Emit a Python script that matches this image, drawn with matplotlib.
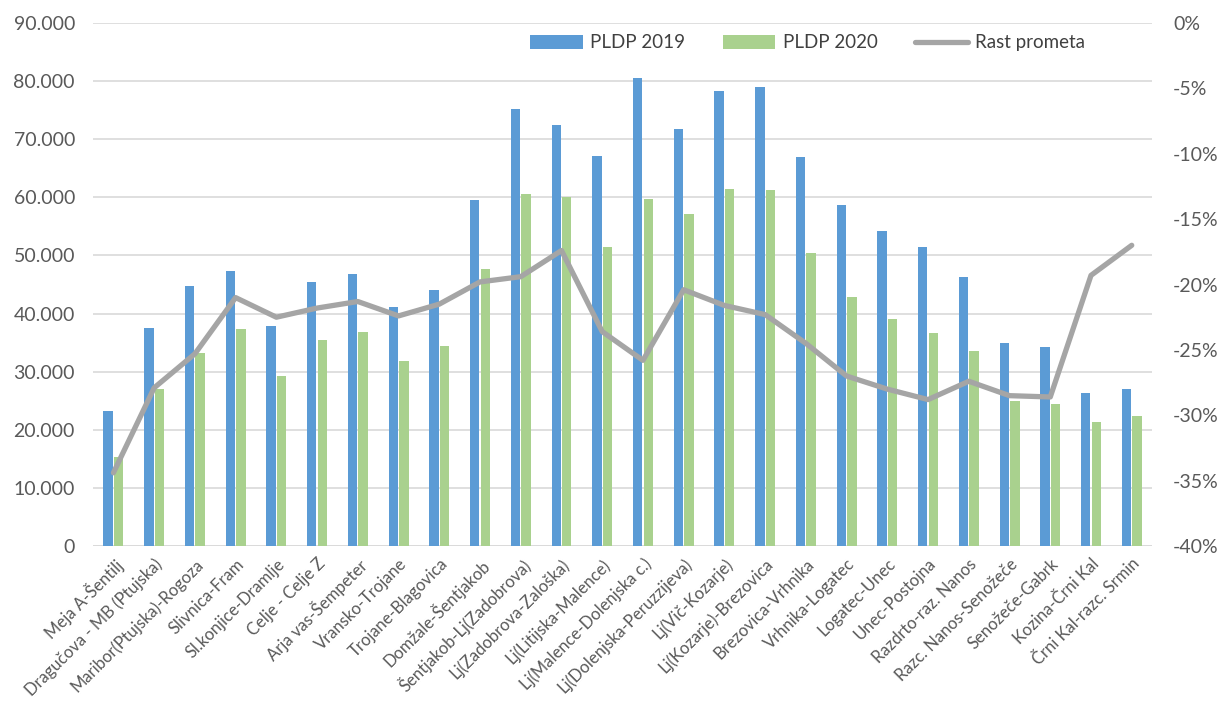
import matplotlib.pyplot as plt
import numpy as np
from matplotlib.ticker import FuncFormatter

plt.rcParams['font.family'] = ['Lato', 'DejaVu Sans']

odseki = ['Meja A-Šentilj', 'Dragučova - MB (Ptujska)', 'Maribor(Ptujska)-Rogoza',
          'Slivnica-Fram', 'Sl.konjice-Dramlje', 'Celje - Celje Z', 'Arja vas-Šempeter',
          'Vransko-Trojane', 'Trojane-Blagovica', 'Domžale-Šentjakob',
          'Šentjakob-Lj(Zadobrova)', 'Lj(Zadobrova-Zaloška)', 'Lj(Litijska-Malence)',
          'Lj(Malence-Dolenjska c.)', 'Lj(Dolenjska-Peruzzijeva)', 'Lj(Vič-Kozarje)',
          'Lj(Kozarje)-Brezovica', 'Brezovica-Vrhnika', 'Vrhnika-Logatec', 'Logatec-Unec',
          'Unec-Postojna', 'Razdrto-raz. Nanos', 'Razc. Nanos-Senožeče', 'Senožeče-Gabrk',
          'Kozina-Črni Kal', 'Črni Kal-razc. Srmin']

pldp_2019 = [23300, 37600, 44800, 47300, 37800, 45400, 46800, 41100, 44000, 59500,
             75200, 72400, 67200, 80600, 71700, 78300, 79000, 67000, 58700, 54200,
             51400, 46300, 34900, 34200, 26400, 27000]
pldp_2020 = [15300, 27000, 33300, 37300, 29200, 35500, 36800, 31800, 34500, 47700,
             60600, 60000, 51400, 59800, 57100, 61400, 61300, 50500, 42900, 39100,
             36600, 33600, 24900, 24400, 21300, 22300]
rast = [-34.4, -27.9, -25.3, -21.0, -22.5, -21.8, -21.3, -22.4, -21.5, -19.8,
        -19.4, -17.4, -23.6, -25.8, -20.4, -21.6, -22.3, -24.5, -27.0, -28.0,
        -28.8, -27.4, -28.5, -28.6, -19.3, -17.0]

fig = plt.figure(figsize=(12.18, 7.04), dpi=100)
ax = fig.add_axes([0.0764, 0.2244, 0.8695, 0.7429])
ax2 = ax.twinx()

x = np.arange(len(odseki))
w = 0.23
b1 = ax.bar(x - 0.13, pldp_2019, w, color='#5B9BD5', label='PLDP 2019', zorder=2)
b2 = ax.bar(x + 0.13, pldp_2020, w, color='#A9D18E', label='PLDP 2020', zorder=2)
l1, = ax2.plot(x, rast, color='#A5A5A5', linewidth=3.8, label='Rast prometa',
               solid_capstyle='round')

ax.set_xlim(-0.5, len(odseki) - 0.5)
ax.set_ylim(0, 90000)
ax.set_yticks(np.arange(0, 90001, 10000))
ax.yaxis.set_major_formatter(FuncFormatter(lambda v, p: f'{int(v):,}'.replace(',', '.')))
ax2.set_ylim(-40, 0)
ax2.set_yticks(np.arange(-40, 1, 5))
ax2.yaxis.set_major_formatter(FuncFormatter(lambda v, p: f'{int(v)}%'))

ax.grid(axis='y', color='#D9D9D9', linewidth=1.2, zorder=0)
ax.set_axisbelow(True)
for a in (ax, ax2):
    for s in a.spines.values():
        s.set_visible(False)
    a.tick_params(length=0, labelsize=14, labelcolor='#595959')
ax.tick_params(axis='y', pad=13)
ax2.tick_params(axis='y', pad=15)
ax.axhline(0, color='#D9D9D9', linewidth=1.2, zorder=1)

ax.set_xticks(x)
ax.set_xticklabels(odseki, rotation=45, ha='right', rotation_mode='anchor', fontsize=12)
ax.tick_params(axis='x', pad=7)

leg = ax.legend(handles=[b1, b2, l1], loc='center', bbox_to_anchor=(0.675, 0.962),
                ncol=3, frameon=False, fontsize=13.5, handlelength=2.8,
                handleheight=0.75, columnspacing=2.0, handletextpad=0.4)
for t in leg.get_texts():
    t.set_color('#404040')

fig.savefig('out.png', dpi=100)
